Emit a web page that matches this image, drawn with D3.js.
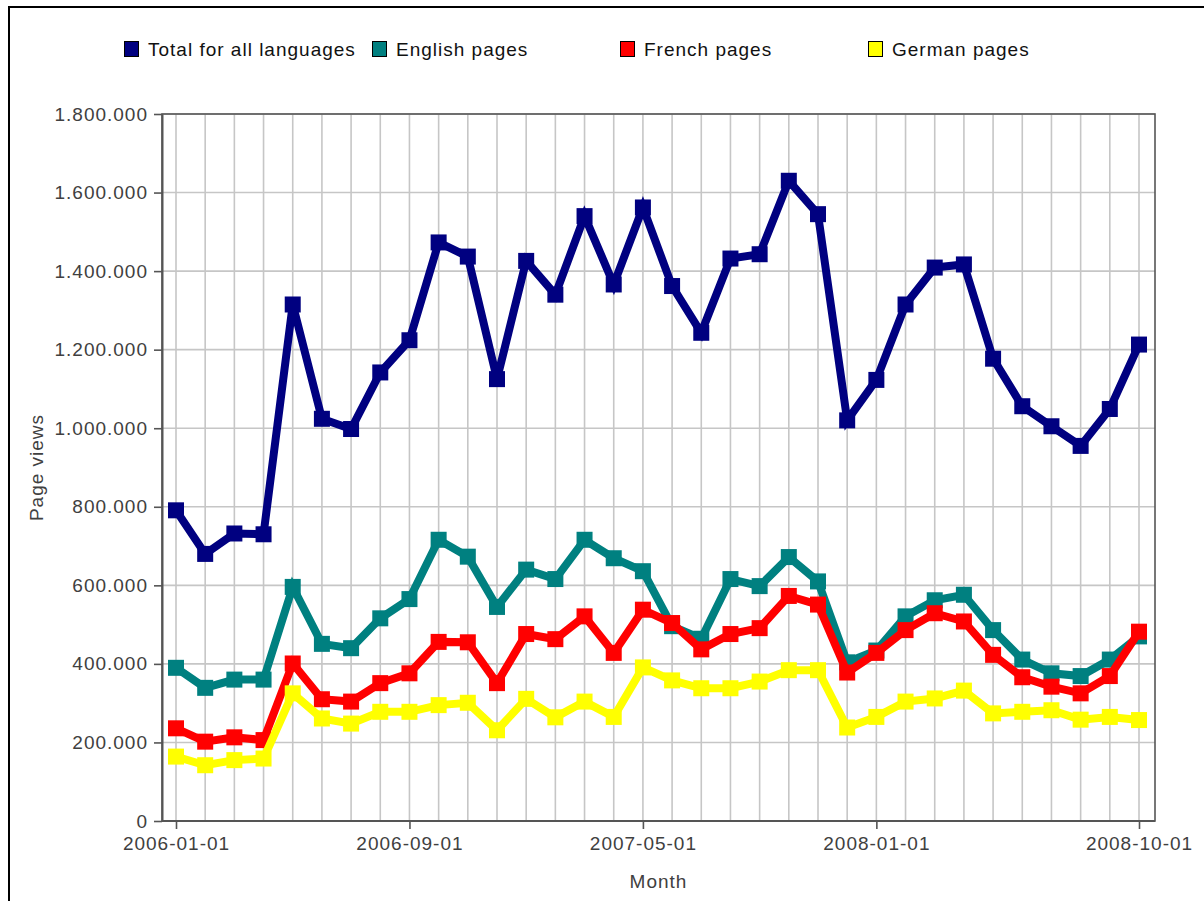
<!DOCTYPE html>
<html>
<head>
<meta charset="utf-8">
<script src="https://cdn.jsdelivr.net/npm/d3@7"></script>
<style>
  html, body { margin: 0; padding: 0; background: #fff; }
  svg { display: block; }
  text { font-family: "Liberation Sans", Arial, sans-serif; }
</style>
</head>
<body>
<div id="chart"></div>
<script>
// months on the x axis
var months = ["2006-01-01","2006-02-01","2006-03-01","2006-04-01","2006-05-01","2006-06-01",
  "2006-07-01","2006-08-01","2006-09-01","2006-10-01","2006-11-01","2006-12-01",
  "2007-01-01","2007-02-01","2007-03-01","2007-04-01","2007-05-01","2007-06-01",
  "2007-07-01","2007-08-01","2007-09-01","2007-10-01","2007-11-01","2007-12-01",
  "2008-01-01","2008-02-01","2008-03-01","2008-04-01","2008-05-01","2008-06-01",
  "2008-07-01","2008-08-01","2008-09-01","2008-10-01"];
var xTickLabels = ["2006-01-01","2006-09-01","2007-05-01","2008-01-01","2008-10-01"];
var yTicks = [0, 200000, 400000, 600000, 800000, 1000000, 1200000, 1400000, 1600000, 1800000];

var seriesNames = ["Total for all languages", "English pages", "French pages", "German pages"];
var seriesColors = ["#000080", "#008080", "#ff0000", "#ffff00"];

var total = [791000, 680000, 732000, 730000, 1315000, 1024000, 998000, 1142000, 1224000, 1473000,
  1437000, 1125000, 1426000, 1340000, 1540000, 1366000, 1562000, 1362000, 1243000, 1432000,
  1443000, 1630000, 1545000, 1020000, 1123000, 1315000, 1409000, 1417000, 1177000, 1056000,
  1005000, 955000, 1049000, 1213000];
var english = [390000, 339000, 360000, 360000, 596000, 451000, 440000, 516000, 565000, 716000,
  673000, 545000, 640000, 616000, 716000, 669000, 636000, 496000, 464000, 616000,
  598000, 672000, 610000, 404000, 434000, 521000, 562000, 576000, 486000, 411000,
  376000, 369000, 411000, 470000];
var french = [236000, 202000, 213000, 206000, 401000, 310000, 304000, 351000, 376000, 456000,
  455000, 351000, 476000, 463000, 521000, 428000, 538000, 504000, 437000, 476000,
  491000, 573000, 551000, 378000, 428000, 486000, 529000, 508000, 423000, 366000,
  342000, 325000, 369000, 482000];
var german = [164000, 142000, 155000, 159000, 325000, 261000, 248000, 278000, 278000, 295000,
  301000, 231000, 311000, 264000, 304000, 265000, 391000, 358000, 338000, 338000,
  355000, 384000, 384000, 238000, 265000, 304000, 312000, 332000, 274000, 278000,
  282000, 258000, 265000, 257000];

var allSeries = [total, english, french, german];

var W = 1204, H = 901;
var plot = {left: 162, right: 1155, top: 114, bottom: 821};

var svg = d3.select('#chart').append('svg')
  .attr('width', W).attr('height', H);

// outer frame (cropped at right/bottom)
svg.append('rect')
  .attr('x', 9).attr('y', 7)
  .attr('width', 1400).attr('height', 1200)
  .attr('fill', 'none').attr('stroke', '#000').attr('stroke-width', 2);

var x = d3.scalePoint().domain(months).range([176, 1139]);
var y = d3.scaleLinear().domain([0, 1800000]).range([plot.bottom, plot.top]);

var fmt = d3.formatLocale({decimal: ",", thousands: ".", grouping: [3], currency: ["", ""]}).format(",");

// grid
var grid = svg.append('g');
grid.selectAll('line.v').data(months).enter().append('line')
  .attr('x1', function(d){ return x(d); }).attr('x2', function(d){ return x(d); })
  .attr('y1', plot.top).attr('y2', plot.bottom)
  .attr('stroke', '#c6c6c6').attr('stroke-width', 1.6);
grid.selectAll('line.h').data(yTicks).enter().append('line')
  .attr('x1', plot.left).attr('x2', plot.right)
  .attr('y1', function(d){ return y(d); }).attr('y2', function(d){ return y(d); })
  .attr('stroke', '#c6c6c6').attr('stroke-width', 1.6);

// plot outline
svg.append('rect')
  .attr('x', plot.left).attr('y', plot.top)
  .attr('width', plot.right - plot.left).attr('height', plot.bottom - plot.top)
  .attr('fill', 'none').attr('stroke', '#555').attr('stroke-width', 1.6);

// y axis
var yAxis = d3.axisLeft(y).tickValues(yTicks).tickFormat(fmt).tickSizeInner(8).tickSizeOuter(0).tickPadding(6);
var gy = svg.append('g').attr('transform', 'translate(' + plot.left + ',0)').call(yAxis);
gy.select('.domain').attr('stroke', '#555').attr('stroke-width', 2);
gy.selectAll('.tick line').attr('stroke', '#555').attr('stroke-width', 1.6);
gy.selectAll('.tick text')
  .attr('font-size', 19).attr('letter-spacing', 1).attr('fill', '#404040')
  .style('font-family', '"Liberation Sans", Arial, sans-serif');

// x axis
var xAxis = d3.axisBottom(x).tickValues(xTickLabels).tickSizeInner(8).tickSizeOuter(0).tickPadding(8);
var gx = svg.append('g').attr('transform', 'translate(0,' + plot.bottom + ')').call(xAxis);
gx.select('.domain').attr('stroke', '#555').attr('stroke-width', 2)
  .attr('d', 'M' + plot.left + ',0H' + plot.right);
gx.selectAll('.tick line').attr('stroke', '#555').attr('stroke-width', 1.6);
gx.selectAll('.tick text')
  .attr('font-size', 19).attr('letter-spacing', 1).attr('fill', '#404040')
  .style('font-family', '"Liberation Sans", Arial, sans-serif');

// axis titles
svg.append('text')
  .attr('x', (plot.left + plot.right) / 2).attr('y', 888)
  .attr('text-anchor', 'middle').attr('font-size', 19).attr('letter-spacing', 1)
  .attr('fill', '#404040').text('Month');
svg.append('text')
  .attr('transform', 'translate(43,' + ((plot.top + plot.bottom) / 2) + ') rotate(-90)')
  .attr('text-anchor', 'middle').attr('font-size', 19).attr('letter-spacing', 1)
  .attr('fill', '#404040').text('Page views');

// series lines + markers
var line = d3.line()
  .x(function(d, i){ return x(months[i]); })
  .y(function(d){ return y(d); });

allSeries.forEach(function(vals, s) {
  var g = svg.append('g');
  g.append('path')
    .datum(vals)
    .attr('d', line)
    .attr('fill', 'none')
    .attr('stroke', seriesColors[s])
    .attr('stroke-width', 8)
    .attr('stroke-linejoin', 'miter')
    .attr('stroke-miterlimit', 4);
  g.selectAll('rect').data(vals).enter().append('rect')
    .attr('x', function(d, i){ return x(months[i]) - 8; })
    .attr('y', function(d){ return y(d) - 8; })
    .attr('width', 16).attr('height', 16)
    .attr('fill', seriesColors[s]);
});

// legend
var legend = svg.append('g').attr('transform', 'translate(124,41)');
var items = legend.selectAll('g').data(seriesNames).enter().append('g')
  .attr('transform', function(d, i){ return 'translate(' + (i * 248) + ',0)'; });
items.append('rect')
  .attr('x', 0.5).attr('y', 0.5).attr('width', 14).attr('height', 15)
  .attr('fill', function(d, i){ return seriesColors[i]; })
  .attr('stroke', '#000').attr('stroke-width', 1);
items.append('text')
  .attr('x', 24).attr('y', 15)
  .attr('font-size', 19).attr('letter-spacing', 1).attr('fill', '#111')
  .text(function(d){ return d; });
</script>
</body>
</html>
